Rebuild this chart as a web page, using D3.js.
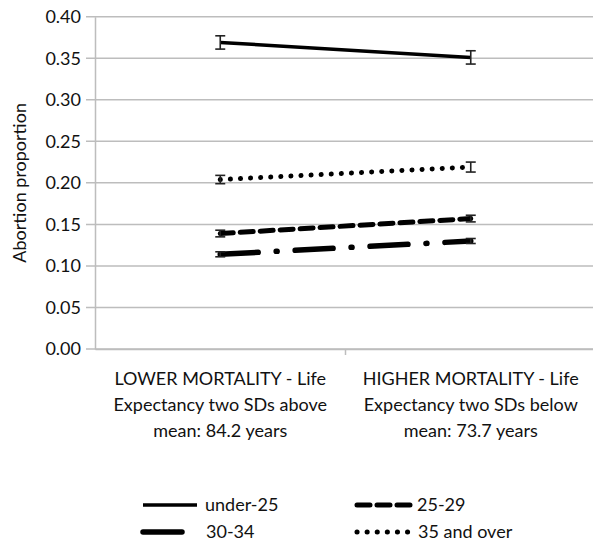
<!DOCTYPE html>
<html>
<head>
<meta charset="utf-8">
<script src="https://cdn.jsdelivr.net/npm/d3@7"></script>
<style>
body{margin:0;background:#fff;}
text{font-family:Lato, "Open Sans", sans-serif;fill:#111;}
</style>
</head>
<body>
<svg id="chart" width="593" height="550"></svg>
<script>
const categories = ["LOWER", "HIGHER"];
const categoryLabels = [
  ["LOWER MORTALITY - Life", "Expectancy two SDs above", "mean: 84.2 years"],
  ["HIGHER MORTALITY - Life", "Expectancy two SDs below", "mean: 73.7 years"]
];
const seriesNames = ["under-25", "25-29", "30-34", "35 and over"];
const under25 = [0.369, 0.351];
const age25_29 = [0.139, 0.157];
const age30_34 = [0.114, 0.130];
const age35plus = [0.204, 0.219];
const errUnder25 = [0.008, 0.008];
const err25_29 = [0.004, 0.004];
const err30_34 = [0.003, 0.003];
const err35plus = [0.005, 0.006];
const yTicks = [0, 0.05, 0.10, 0.15, 0.20, 0.25, 0.30, 0.35, 0.40];
const yTitle = "Abortion proportion";

const svg = d3.select("#chart");
const mLeft = 95, mRight = 596, mTop = 16.7, mBottom = 349;
const x = d3.scalePoint().domain(categories).range([mLeft, mRight]).padding(0.5);
const y = d3.scaleLinear().domain([0, 0.40]).range([mBottom, mTop]);

// gridlines
svg.append("g").selectAll("line").data(yTicks).join("line")
  .attr("x1", mLeft - 9).attr("x2", 593)
  .attr("y1", d => y(d)).attr("y2", d => y(d))
  .attr("stroke", "#bdbdbd").attr("stroke-width", 1.5);

// y axis
const yAxis = d3.axisLeft(y).tickValues(yTicks).tickFormat(d3.format(".2f")).tickSize(0).tickPadding(14);
const yg = svg.append("g").attr("transform", `translate(${mLeft},0)`).call(yAxis);
yg.select(".domain").attr("stroke", "#bdbdbd").attr("stroke-width", 1.5);
yg.selectAll("text").style("font-size", "18px").attr("fill", "#111").style("font-family", "Lato");

// x axis
const xAxis = d3.axisBottom(x).tickSize(0).tickFormat("");
const xg = svg.append("g").attr("transform", `translate(0,${mBottom})`).call(xAxis);
xg.select(".domain").attr("stroke", "#bdbdbd").attr("stroke-width", 1.5);
const mid = (x(categories[0]) + x(categories[1])) / 2;
svg.append("line").attr("x1", mid).attr("x2", mid).attr("y1", mBottom).attr("y2", mBottom + 6)
  .attr("stroke", "#bdbdbd").attr("stroke-width", 1.5);

// x labels
categories.forEach((c, i) => {
  const t = svg.append("text").attr("x", x(c)).attr("y", mBottom + 36)
    .attr("text-anchor", "middle").style("font-size", "18px");
  categoryLabels[i].forEach((ln, j) => {
    t.append("tspan").attr("x", x(c)).attr("dy", j === 0 ? 0 : 26).text(ln);
  });
});

// y title
svg.append("text").attr("transform", `translate(26,${(mTop + mBottom) / 2}) rotate(-90)`)
  .attr("text-anchor", "middle").style("font-size", "18px").text(yTitle);

const series = [
  {name: seriesNames[0], vals: under25, err: errUnder25, dash: null, width: 3.5},
  {name: seriesNames[1], vals: age25_29, err: err25_29, dash: "13,7", width: 5},
  {name: seriesNames[2], vals: age30_34, err: err30_34, dash: "38,18,1,18", width: 5.5},
  {name: seriesNames[3], vals: age35plus, err: err35plus, dash: "0.1,10", width: 5}
];

const line = d3.line().x((d, i) => x(categories[i])).y(d => y(d));
series.forEach(s => {
  svg.append("path").datum(s.vals).attr("d", line)
    .attr("fill", "none").attr("stroke", "#000").attr("stroke-width", s.width)
    .attr("stroke-linecap", s.dash ? "round" : "butt")
    .attr("stroke-dasharray", s.dash);
  s.vals.forEach((v, i) => {
    const cx = x(categories[i]);
    const g = svg.append("g").attr("stroke", "#222").attr("stroke-width", 1.6);
    g.append("line").attr("x1", cx).attr("x2", cx).attr("y1", y(v - s.err[i])).attr("y2", y(v + s.err[i]));
    g.append("line").attr("x1", cx - 5).attr("x2", cx + 5).attr("y1", y(v - s.err[i])).attr("y2", y(v - s.err[i]));
    g.append("line").attr("x1", cx - 5).attr("x2", cx + 5).attr("y1", y(v + s.err[i])).attr("y2", y(v + s.err[i]));
  });
});

// legend
const legendPos = [
  {x: 143, y: 505}, {x: 357, y: 505}, {x: 143, y: 532}, {x: 357, y: 532}
];
const textOffset = [62, 60, 63, 61];
series.forEach((s, i) => {
  const p = legendPos[i];
  svg.append("line").attr("x1", p.x).attr("x2", p.x + (i === 2 ? 39 : 54)).attr("y1", p.y).attr("y2", p.y)
    .attr("stroke", "#000").attr("stroke-width", s.width)
    .attr("stroke-linecap", s.dash ? "round" : "butt")
    .attr("stroke-dasharray", i === 2 ? null : s.dash);
  svg.append("text").attr("x", p.x + textOffset[i]).attr("y", p.y).attr("dy", "0.35em")
    .style("font-size", "18px").text(s.name);
});
</script>
</body>
</html>
